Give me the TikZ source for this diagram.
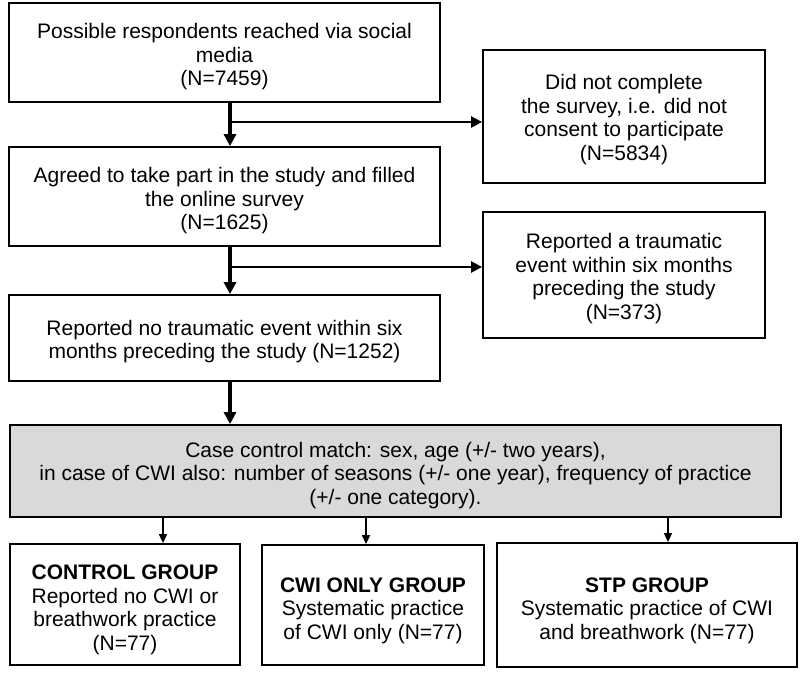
\documentclass[tikz,border=0pt]{standalone}
\usepackage{fontspec}
\setmainfont{Liberation Sans}
\usetikzlibrary{arrows.meta}
\definecolor{boxgray}{RGB}{217,217,217}
\newcommand\mlines[2][5pt]{\raisebox{-#1}[\height][\depth]{\begin{tabular}{@{}c@{}}#2\end{tabular}}}
\begin{document}
\begin{tikzpicture}[x=1pt,y=-1pt,
  box/.style={draw=black, line width=1.8pt, inner sep=0pt,
    font=\fontsize{21}{23.5}\selectfont, text=black},
  mainarrow/.style={line width=3.2pt, -{Triangle[width=12pt,length=12pt]}},
  brancharrow/.style={line width=2.4pt, -{Triangle[width=11pt,length=11pt]}},
  smallarrow/.style={line width=1.6pt, -{Triangle[width=8pt,length=9pt]}}]
\useasboundingbox (0,0) rectangle (800,677);
\fill[white] (0,0) rectangle (800,677);

\node[box, minimum width=431pt, minimum height=99pt] (b1) at (224.5,52.5)
  {\mlines{Possible respondents reached via social\\media\\(N=7459)}};
\node[box, minimum width=431pt, minimum height=99pt] (b2) at (224.5,196.5)
  {\mlines{Agreed to take part in the study and filled\\the online survey\\(N=1625)}};
\node[box, minimum width=431pt, minimum height=86pt] (b3) at (224.5,338)
  {\mlines[4.5pt]{Reported no traumatic event within six\\months preceding the study (N=1252)}};
\node[box, minimum width=282pt, minimum height=133pt] (r1) at (624,116.5)
  {\mlines[4pt]{Did not complete\\the survey, i.e. did not\\consent to participate\\(N=5834)}};
\node[box, minimum width=282pt, minimum height=126pt] (r2) at (624,275)
  {\mlines[4.5pt]{Reported a traumatic\\event within six months\\preceding the study\\(N=373)}};
\node[box, fill=boxgray, minimum width=771pt, minimum height=92pt] (g) at (395.5,471)
  {\mlines{Case control match: sex, age (+/- two years),\\in case of CWI also: number of seasons (+/- one year), frequency of practice\\(+/- one category).}};
\node[box, minimum width=230pt, minimum height=121pt] (c1) at (125,604.5)
  {\mlines[6pt]{\textbf{CONTROL GROUP}\\Reported no CWI or\\breathwork practice\\(N=77)}};
\node[box, minimum width=222pt, minimum height=120pt] (c2) at (373,605)
  {\mlines[6pt]{\textbf{CWI ONLY GROUP}\\Systematic practice\\of CWI only (N=77)}};
\node[box, minimum width=300pt, minimum height=124pt] (c3) at (647,605)
  {\mlines[6pt]{\textbf{STP GROUP}\\Systematic practice of CWI\\and breathwork (N=77)}};

\coordinate (a1) at (230,0);
\coordinate (j1) at (230,122);
\coordinate (j2) at (230,267);
\coordinate (d1) at (163,0);
\coordinate (d2) at (366,0);
\coordinate (d3) at (668,0);

\draw[mainarrow] (b1.south -| a1) -- (b2.north -| a1);
\draw[mainarrow] (b2.south -| a1) -- (b3.north -| a1);
\draw[mainarrow] (b3.south -| a1) -- (g.north -| a1);
\draw[brancharrow] (j1) -- (j1 -| r1.west);
\draw[brancharrow] (j2) -- (j2 -| r2.west);
\draw[smallarrow] (g.south -| d1) -- (c1.north -| d1);
\draw[smallarrow] (g.south -| d2) -- (c2.north -| d2);
\draw[smallarrow] (g.south -| d3) -- (c3.north -| d3);
\end{tikzpicture}
\end{document}
